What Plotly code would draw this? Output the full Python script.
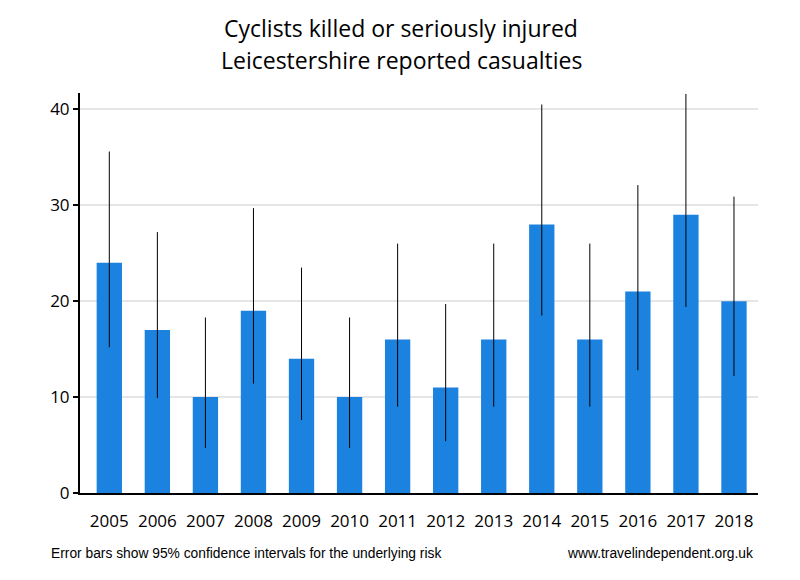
import plotly.graph_objects as go

years = ["2005", "2006", "2007", "2008", "2009", "2010", "2011",
         "2012", "2013", "2014", "2015", "2016", "2017", "2018"]
casualties = [24, 17, 10, 19, 14, 10, 16, 11, 16, 28, 16, 21, 29, 20]
ci_upper = [35.6, 27.2, 18.3, 29.7, 23.5, 18.3, 26.0, 19.7, 26.0, 40.5, 26.0, 32.1, 41.6, 30.9]
ci_lower = [15.2, 9.9, 4.7, 11.4, 7.6, 4.7, 9.0, 5.4, 9.0, 18.5, 9.0, 12.8, 19.4, 12.2]

err_plus = [u - v for u, v in zip(ci_upper, casualties)]
err_minus = [v - l for v, l in zip(casualties, ci_lower)]

fig = go.Figure()
fig.add_trace(go.Bar(
    x=years, y=casualties,
    marker=dict(color="#1c82e0", line=dict(width=0)),
    error_y=dict(type="data", symmetric=False, array=err_plus, arrayminus=err_minus,
                 color="black", thickness=1, width=0),
    cliponaxis=True,
))

fig.update_layout(
    width=800, height=580,
    paper_bgcolor="white", plot_bgcolor="white",
    margin=dict(l=72, r=50, t=85, b=95, autoexpand=False),
    bargap=0.473,
    showlegend=False,
    xaxis=dict(range=[-0.61, 13.5], showgrid=False, showline=True, linecolor="black", linewidth=2,
               ticks="outside", ticklen=12, tickcolor="rgba(0,0,0,0)",
               tickfont=dict(family="Open Sans", size=17, color="black")),
    yaxis=dict(range=[0, 41.7], tickvals=[0, 10, 20, 30, 40],
               showgrid=True, gridcolor="#e6e6e6", gridwidth=1.5,
               showline=True, linecolor="black", linewidth=2,
               ticks="outside", ticklen=5, tickwidth=2, tickcolor="black",
               zeroline=False,
               tickfont=dict(family="Open Sans", size=17, color="black")),
)

fig.add_annotation(text="Cyclists killed or seriously injured",
                   xref="paper", yref="paper", x=0.4735, y=1.1626, xanchor="center", yanchor="middle",
                   showarrow=False, font=dict(family="Open Sans", size=23, color="black"))
fig.add_annotation(text="Leicestershire reported casualties",
                   xref="paper", yref="paper", x=0.4735, y=1.0826, xanchor="center", yanchor="middle",
                   showarrow=False, font=dict(family="Open Sans", size=23, color="black"))

fig.add_annotation(text="Error bars show 95% confidence intervals for the underlying risk",
                   xref="paper", yref="paper", x=-0.0457, y=-0.151, xanchor="left", yanchor="middle",
                   showarrow=False, font=dict(family="Liberation Sans", size=13.8, color="black"))
fig.add_annotation(text="www.travelindependent.org.uk",
                   xref="paper", yref="paper", x=0.9956, y=-0.151, xanchor="right", yanchor="middle",
                   showarrow=False, font=dict(family="Liberation Sans", size=13.8, color="black"))

fig.write_html("out.html")
